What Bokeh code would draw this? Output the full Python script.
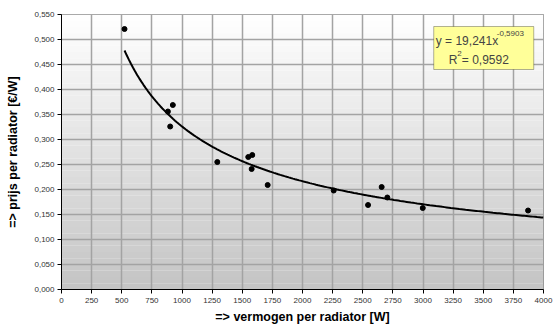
import numpy as np
from bokeh.plotting import figure
from bokeh.models import FixedTicker, CustomJSTickFormatter, Label, BoxAnnotation, ColumnDataSource
from bokeh.embed import file_html
from bokeh.resources import INLINE

# ---- data ----
power_w = [523, 883, 902, 924, 1293, 1550, 1578, 1583, 1711, 2259, 2544, 2657, 2704, 2998, 3872]
price_per_w = [0.521, 0.356, 0.326, 0.369, 0.255, 0.265, 0.241, 0.269, 0.209, 0.198,
               0.169, 0.205, 0.184, 0.163, 0.158]
fit_coef = 19.241       # trendline y = a * x^b as printed on the chart
fit_exp = -0.5903
r_squared = 0.9592
x_ticks = list(range(0, 4001, 250))
y_ticks = [round(i * 0.05, 3) for i in range(12)]
x_range = (0, 4000)
y_range = (0, 0.55)

FONT = "Liberation Sans"

p = figure(width=554, height=326, output_backend="svg", toolbar_location=None,
           x_range=x_range, y_range=y_range,
           min_border_left=61, min_border_right=11, min_border_top=14, min_border_bottom=37)
p.background_fill_color = "white"
p.border_fill_color = "white"
p.outline_line_color = "#8c8c8c"
p.outline_line_width = 1

# gradient background (white top -> grey bottom)
n_bands = 44
edges = np.linspace(y_range[0], y_range[1], n_bands + 1)
cols = []
for i in range(n_bands):
    t = (i + 0.5) / n_bands  # 0 bottom, 1 top
    g = int(round(196 + (255 - 196) * t))
    cols.append("#%02x%02x%02x" % (g, g, g))
p.quad(left=x_range[0], right=x_range[1], bottom=edges[:-1], top=edges[1:],
       fill_color=cols, line_color=None, level="image")

# grid
for grid in (p.xgrid, p.ygrid):
    grid.grid_line_color = "#a3a3a3"
    grid.grid_line_width = 1.5
p.xaxis.ticker = FixedTicker(ticks=x_ticks)
p.yaxis.ticker = FixedTicker(ticks=y_ticks)
p.xgrid.ticker = FixedTicker(ticks=x_ticks)
p.ygrid.ticker = FixedTicker(ticks=y_ticks)
p.yaxis.formatter = CustomJSTickFormatter(code="return tick.toFixed(3).replace('.', ',');")
p.xaxis.formatter = CustomJSTickFormatter(code="return tick.toFixed(0);")

for ax in (p.xaxis, p.yaxis):
    ax.axis_line_color = "black"
    ax.axis_line_width = 1
    ax.major_tick_line_color = "black"
    ax.major_tick_out = 4
    ax.major_tick_in = 0
    ax.minor_tick_line_color = None
    ax.major_label_text_font = FONT
    ax.major_label_text_font_size = "8px"
    ax.major_label_text_color = "#333333"
    ax.axis_label_text_font = FONT
    ax.axis_label_text_font_size = "12.5px"
    ax.axis_label_text_font_style = "bold"
    ax.axis_label_text_color = "black"

p.xaxis.axis_label = "=> vermogen per radiator [W]"
p.yaxis.axis_label = "=> prijs per radiator [€/W]"
p.xaxis.major_label_standoff = 4
p.xaxis.axis_label_standoff = 4
p.yaxis.major_label_standoff = 3
p.yaxis.axis_label_standoff = 11

# trendline from the printed equation
trend_x = np.linspace(min(power_w), x_range[1], 200)
trend_y = fit_coef * trend_x ** fit_exp
p.line(trend_x, trend_y, line_color="black", line_width=2)

# measurements
src = ColumnDataSource(dict(x=power_w, y=price_per_w))
p.scatter("x", "y", source=src, size=5, fill_color="black", line_color="black")

# equation box
p.add_layout(BoxAnnotation(left=3089, right=3919, bottom=0.44, top=0.526,
                           fill_color="#ffff99", fill_alpha=1,
                           line_color="black", line_width=1, level="annotation"))
fmt = lambda v: ("%g" % v).replace(".", ",")
p.add_layout(Label(x=3106, y=0.498, text="y = " + fmt(fit_coef) + "x",
                   text_font=FONT, text_font_size="12px", text_baseline="middle"))
p.add_layout(Label(x=3106, y=0.512, x_offset=61, text=fmt(fit_exp),
                   text_font=FONT, text_font_size="8px", text_baseline="middle"))
p.add_layout(Label(x=3214, y=0.46, text="R",
                   text_font=FONT, text_font_size="12px", text_baseline="middle"))
p.add_layout(Label(x=3214, y=0.472, x_offset=8.5, text="2",
                   text_font=FONT, text_font_size="8px", text_baseline="middle"))
p.add_layout(Label(x=3214, y=0.46, x_offset=13, text=" = " + fmt(r_squared),
                   text_font=FONT, text_font_size="12px", text_baseline="middle"))

open("out.html", "w").write(file_html(p, INLINE))
